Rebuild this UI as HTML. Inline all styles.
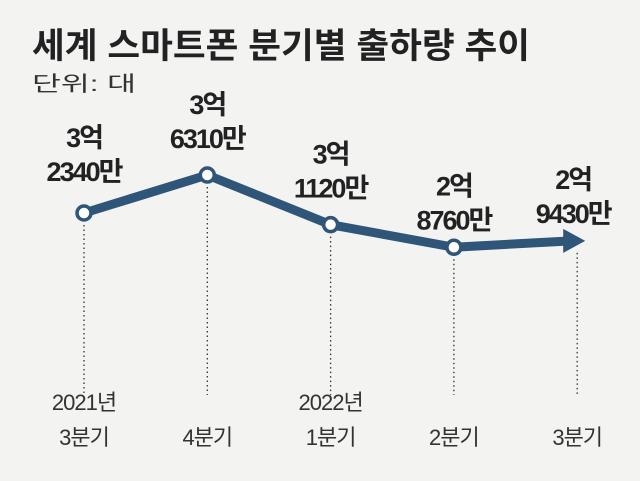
<!DOCTYPE html>
<html><head><meta charset="utf-8"><style>
body{margin:0;background:#f3f3f2;}
svg{display:block;font-family:"Liberation Sans","Noto Sans CJK KR",sans-serif;}
</style></head><body>
<svg id="c" width="640" height="481">
<text x="32" y="58" font-size="35" font-weight="bold" fill="#222" textLength="498" lengthAdjust="spacingAndGlyphs">세계 스마트폰 분기별 출하량 추이</text>
<text x="32" y="91" font-size="21" fill="#333" textLength="104" lengthAdjust="spacingAndGlyphs">단위: 대</text>
<g id="g"></g>
</svg>
<script>
const categories=[["2021년","3분기"],["4분기"],["2022년","1분기"],["2분기"],["3분기"]];
const values=[32340,36310,31120,28760,29430];
const valueTop=["3억","3억","3억","2억","2억"];
const valueBottom=["2340만","6310만","1120만","8760만","9430만"];
const ns="http://www.w3.org/2000/svg",g=document.getElementById('g');
const xs=i=>84+i*123.3;
const ys=v=>213-(v-32340)*0.00957;
function el(t,a){const e=document.createElementNS(ns,t);for(const k in a)e.setAttribute(k,a[k]);g.appendChild(e);return e;}
values.forEach((v,i)=>{
 const d=el('line',{x1:xs(i),x2:xs(i),y1:ys(v)+12,y2:395,stroke:'#333','stroke-width':1.3,'stroke-dasharray':'1.5,3'});
 
 
});
let pts=values.map((v,i)=>[xs(i),ys(v)]);
const last=pts.length-1;
pts[last]=[xs(last)-6,ys(values[last])];
const pl=el('polyline',{points:pts.map(p=>p.join(',')).join(' '),fill:'none',stroke:'#2f5578','stroke-width':9,'stroke-linejoin':'round'});


const [ax,ay]=pts[last];
const ar=el('polygon',{points:`${ax-8},${ay-12} ${ax+14},${ay} ${ax-8},${ay+12}`,fill:'#2f5578'});


values.forEach((v,i)=>{
 const x=xs(i),y=ys(v);
 if(i<last){
  const c=el('circle',{cx:x,cy:y,r:7,fill:'#fff',stroke:'#2f5578','stroke-width':3.5});
  
  
 }
 const off=i>=3?18:(i==0?32:27);
 const lx=i==last?x-4:x;
 const t1=el('text',{x:lx,y:y-off-34,'text-anchor':'middle','font-size':27,'font-weight':'bold',fill:'#222','letter-spacing':'-2'});
 t1.textContent=valueTop[i];
 
 
 const t2=el('text',{x:lx,y:y-off,'text-anchor':'middle','font-size':27,'font-weight':'bold',fill:'#222','letter-spacing':'-2'});
 t2.textContent=valueBottom[i];
 
 
 const lines=categories[i];
 lines.forEach((s,j)=>{
  const t=el('text',{x:x,y:445-(lines.length-1-j)*35,'text-anchor':'middle','font-size':22,fill:'#333','letter-spacing':'-1'});
  t.textContent=s;
  
  
 });
});
</script>
</body></html>
